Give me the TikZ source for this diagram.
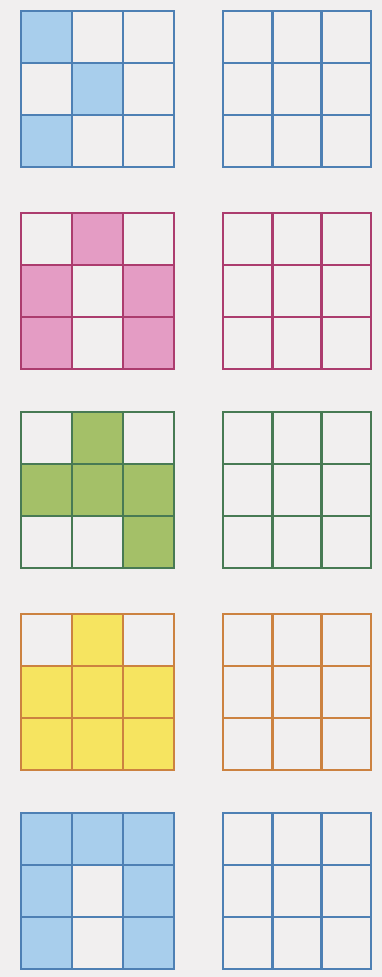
\documentclass[tikz,border=0pt]{standalone}
\usepackage{tikz}
\usepackage{xcolor}

\definecolor{paper}{RGB}{241,239,239}
\definecolor{bluefill}{RGB}{168,206,236}
\definecolor{blueline}{RGB}{78,128,180}
\definecolor{pinkfill}{RGB}{228,156,196}
\definecolor{pinkline}{RGB}{172,60,110}
\definecolor{greenfill}{RGB}{164,192,104}
\definecolor{greenline}{RGB}{72,122,84}
\definecolor{yellowfill}{RGB}{246,228,96}
\definecolor{yellowline}{RGB}{204,130,64}

\begin{document}
\begin{tikzpicture}[x=0.02cm, y=-0.02cm, gridline/.style={line width=1.5pt, line cap=rect}]
            % Paper
            \fill[paper] (0,0) rectangle (382,977);

            \foreach \top/\fl/\ln/\cells in {11/bluefill/blueline/{0/0,1/1,0/2},
                                             213/pinkfill/pinkline/{1/0,0/1,2/1,0/2,2/2},
                                             412/greenfill/greenline/{1/0,0/1,1/1,2/1,2/2},
                                             614/yellowfill/yellowline/{1/0,0/1,1/1,2/1,0/2,1/2,2/2},
                                             813/bluefill/blueline/{0/0,1/0,2/0,0/1,2/1,0/2,2/2}} {
                % Left grid with shaded cells
                \foreach \cx/\cy in \cells
                    \fill[fill=\fl] ({21+51*\cx},{\top+52*\cy}) rectangle ++(51,52);
                \foreach \i in {1,2} {
                    \draw[gridline, draw=\ln] ({21+51*\i},\top) -- ++(0,156);
                    \draw[gridline, draw=\ln] (21,{\top+52*\i}) -- ++(153,0);
                }
                \draw[gridline, draw=\ln] (21,\top) rectangle ++(153,156);

                % Right grid, empty
                \foreach \i in {1,2} {
                    \draw[gridline, draw=\ln] ({223+49.33*\i},\top) -- ++(0,156);
                    \draw[gridline, draw=\ln] (223,{\top+52*\i}) -- ++(148,0);
                }
                \draw[gridline, draw=\ln] (223,\top) rectangle ++(148,156);
            }
        \end{tikzpicture}
\end{document}
